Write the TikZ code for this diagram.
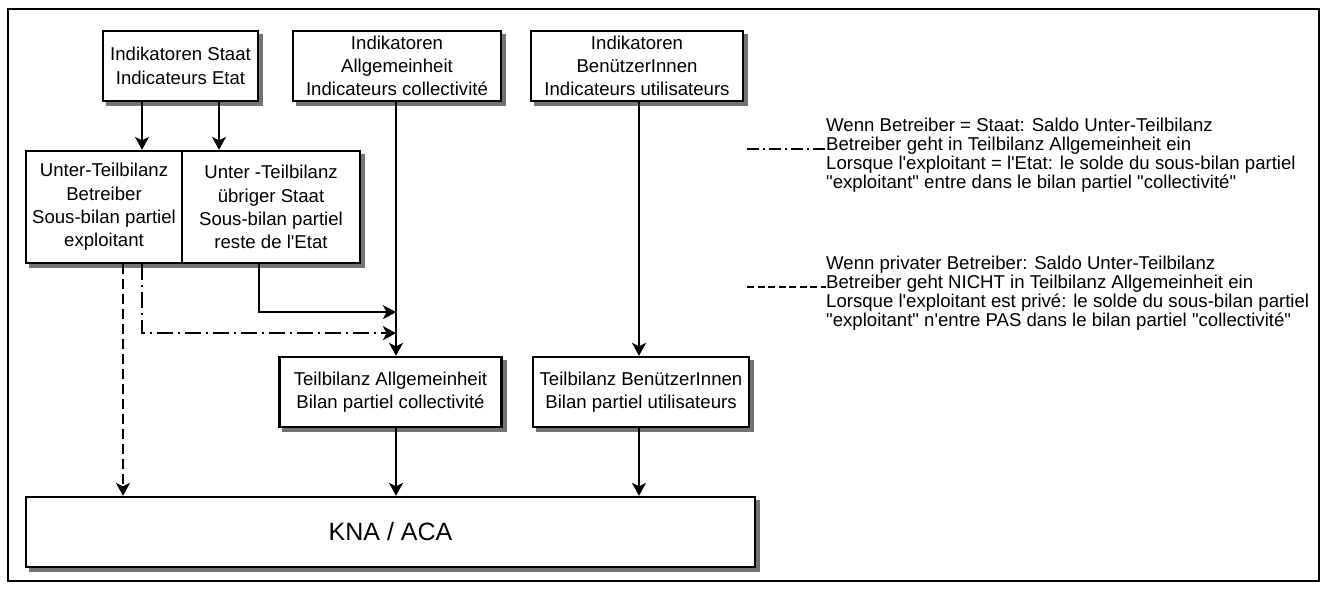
\documentclass[tikz,border=0pt]{standalone}
\usepackage{fontspec}
\newfontfamily\arialf{Liberation Sans}
\usetikzlibrary{arrows.meta,backgrounds}
\begin{document}
\begin{tikzpicture}[x=1pt,y=-1pt,
  box/.style={draw=black, line width=2.3pt, fill=white, align=center, inner sep=0pt,
    font=\arialf\fontsize{18.6}{23.3}\selectfont},
  shad/.style={fill=black!55},
  arr/.style={line width=2.3pt, -{Stealth[length=13pt,width=14pt,inset=3.5pt]}},
  dashdotline/.style={dash pattern=on 16pt off 5pt on 2pt off 5pt},
  dashline/.style={dash pattern=on 10pt off 5pt},
  leg/.style={inner sep=0pt, anchor=base west, font=\arialf\fontsize{18.6}{19}\selectfont},
  legline/.style={line width=2.2pt}
]
\useasboundingbox (0,0) rectangle (1322,589);
\draw[line width=1.6pt] (8,9) rectangle (1319,581);

% top row
\node[box, minimum width=155, minimum height=70] (staat) at (180.5,66) {Indikatoren Staat\\Indicateurs Etat};
\node[box, minimum width=208, minimum height=70] (allg) at (397,66) {Indikatoren\\Allgemeinheit\\Indicateurs collectivité};
\node[box, minimum width=212, minimum height=70] (benI) at (637,66) {Indikatoren\\BenützerInnen\\Indicateurs utilisateurs};

% second row
\node[box, minimum width=156, minimum height=112] (betr) at (104,207) {Unter-Teilbilanz\\Betreiber\\Sous-bilan partiel\\exploitant};
\node[box, minimum width=178, minimum height=112] (uebr) at (271,207) {Unter -Teilbilanz\\übriger Staat\\Sous-bilan partiel\\reste de l'Etat};

% third row
\node[box, minimum width=222, minimum height=70] (tallg) at (390.5,392) {Teilbilanz Allgemeinheit\\Bilan partiel collectivité};
\node[box, minimum width=216, minimum height=70] (tben) at (641,392) {Teilbilanz BenützerInnen\\Bilan partiel utilisateurs};

% bottom
\node[box, minimum width=729, minimum height=70, font=\arialf\fontsize{25}{30}\selectfont] (kna) at (390.5,532) {KNA / ACA};

% shadows
\begin{scope}[on background layer]
\foreach \n in {staat,allg,benI,betr,uebr,tallg,tben,kna}{
  \fill[shad] ([shift={(4pt,-4pt)}]\n.south west) rectangle ([shift={(4pt,-4pt)}]\n.north east);
}
\end{scope}

% connectors
\draw[arr] ([xshift=-38.5pt]staat.south) -- ([xshift=-38.5pt]staat.south |- betr.north);
\draw[arr] ([xshift=38.5pt]staat.south) -- ([xshift=38.5pt]staat.south |- uebr.north);
\draw[arr] ([xshift=-1pt]allg.south) -- ([xshift=-1pt]allg.south |- tallg.north);
\draw[arr] ([xshift=2pt]benI.south) -- ([xshift=2pt]benI.south |- tben.north);
\draw[arr] ([xshift=-1pt]allg.south |- tallg.south) -- ([xshift=-1pt]allg.south |- kna.north);
\draw[arr] ([xshift=2pt]benI.south |- tben.south) -- ([xshift=2pt]benI.south |- kna.north);

\path ([xshift=-1pt]allg.south) ++(0,210) coordinate (j1);
\path ([xshift=-1pt]allg.south) ++(0,231) coordinate (j2);
\draw[arr] ([xshift=-12pt]uebr.south) |- (j1);
\draw[arr, dashdotline] ([xshift=38pt]betr.south) |- (j2);
\draw[arr, dashline] ([xshift=19pt]betr.south) -- ([xshift=19pt]betr.south |- kna.north);

% legend
\node[leg] (a1) at (826,131) {Wenn Betreiber = Staat: Saldo Unter-Teilbilanz};
\node[leg] (a2) at (826,150) {Betreiber geht in Teilbilanz Allgemeinheit ein};
\node[leg] (a3) at (826,169) {Lorsque l'exploitant = l'Etat: le solde du sous-bilan partiel};
\node[leg] (a4) at (826,188) {"exploitant" entre dans le bilan partiel "collectivité"};
\coordinate (la) at (747,149);
\draw[legline, dash pattern=on 12pt off 4pt on 2pt off 4pt] (la) -- (la -| a2.west);

\node[leg] (b1) at (826,269) {Wenn privater Betreiber: Saldo Unter-Teilbilanz};
\node[leg] (b2) at (826,288) {Betreiber geht NICHT in Teilbilanz Allgemeinheit ein};
\node[leg] (b3) at (826,307) {Lorsque l'exploitant est privé: le solde du sous-bilan partiel};
\node[leg] (b4) at (826,326) {"exploitant" n'entre PAS dans le bilan partiel "collectivité"};
\coordinate (lb) at (747,287);
\draw[legline, dash pattern=on 7pt off 3.5pt] (lb) -- (lb -| b2.west);
\end{tikzpicture}
\end{document}
